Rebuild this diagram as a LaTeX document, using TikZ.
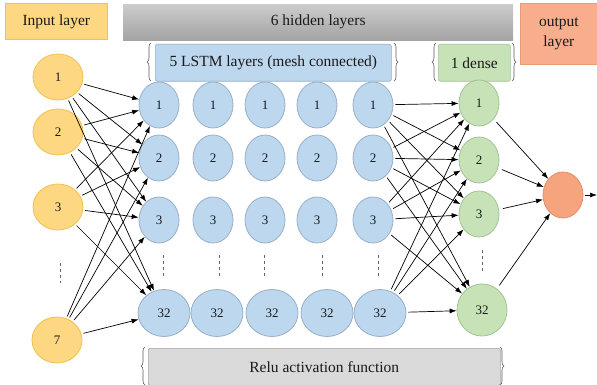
\documentclass[tikz,border=0pt]{standalone}
\usepackage{fontspec}
\newfontfamily\labfont{Liberation Serif}
\usetikzlibrary{shapes.geometric,arrows.meta,decorations.pathreplacing}
\definecolor{inF}{HTML}{FED782}
\definecolor{inD}{HTML}{F2C14E}
\definecolor{blF}{HTML}{BDD7EE}
\definecolor{blD}{HTML}{97AFC9}
\definecolor{grF}{HTML}{C8E2B8}
\definecolor{grD}{HTML}{A3C293}
\definecolor{ouF}{HTML}{F5A47E}
\definecolor{ouD}{HTML}{E38E68}
\definecolor{obF}{HTML}{F8AE8C}
\definecolor{obD}{HTML}{E99B78}
\definecolor{rlF}{HTML}{DADADA}
\definecolor{rlD}{HTML}{A0A0A0}
\definecolor{txt}{HTML}{1A1A1A}
\begin{document}
\begin{tikzpicture}[x=1pt,y=-1pt,
  lab/.style={font=\labfont\fontsize{15.5}{19}\selectfont, text=txt, inner sep=0pt, anchor=north west, align=center},
  neuron/.style={ellipse, inner sep=0pt, font=\labfont\fontsize{13}{15}\selectfont, text=txt, line width=0.8pt},
  inN/.style={neuron, fill=inF, draw=inD, minimum width=50, minimum height=46},
  lsN/.style={neuron, fill=blF, draw=blD, minimum width=40, minimum height=46},
  lsB/.style={neuron, fill=blF, draw=blD, minimum width=52, minimum height=47},
  deN/.style={neuron, fill=grF, draw=grD, minimum width=40, minimum height=46},
  deB/.style={neuron, fill=grF, draw=grD, minimum width=50, minimum height=52},
  ouN/.style={neuron, fill=ouF, draw=ouD, minimum width=40, minimum height=46},
  arr/.style={-{Latex[length=7pt,width=5pt]}, line width=0.7pt, black, shorten <=2pt},
  dots/.style={dashed, dash pattern=on 3pt off 3pt, line width=0.8pt, gray!80!black},
  brc/.style={decorate, decoration={brace, amplitude=4pt}, line width=0.6pt, gray!70!black}
]
\useasboundingbox (0,0) rectangle (597,385);

% header boxes
\node[lab, fill=inF, draw=inD, line width=0.6pt, minimum width=102, minimum height=36] (inbox) at (5,3) {Input layer};
\node[lab, top color=gray!40, bottom color=gray!72, draw=none, minimum width=390, minimum height=36] (hidbox) at (123,4) {6 hidden layers};
\node[lab, fill=obF, draw=obD, line width=0.6pt, minimum width=77, minimum height=61] (outbox) at (520,3) {output\\[1pt]layer};
\node[lab, fill=blF, draw=blD, line width=0.6pt, rounded corners=2pt, minimum width=236, minimum height=37] (lstmbox) at (155,44) {5 LSTM layers (mesh connected)};
\node[lab, fill=grF, draw=grD, line width=0.6pt, rounded corners=2pt, minimum width=72, minimum height=37] (densebox) at (438,44) {1 dense};
\node[lab, fill=rlF, draw=rlD, line width=0.6pt, rounded corners=2pt, minimum width=352, minimum height=37] (relubox) at (148,348) {Relu activation function};

% braces
\draw[brc] (151,81) -- (151,43);
\draw[brc] (394,43) -- (394,81);
\draw[brc] (436,81) -- (436,43);
\draw[brc] (512,43) -- (512,81);
\draw[brc] (145,385) -- (145,347);
\draw[brc] (500,347) -- (500,385);

% input neurons
\node[inN] (i1) at (58,77) {1};
\node[inN] (i2) at (58,132) {2};
\node[inN] (i3) at (58,207) {3};
\node[inN] (i7) at (57,340) {7};

% LSTM neurons
\foreach \c/\x/\xb in {1/159/164, 2/213/217, 3/265/272, 4/317/327, 5/373/380}{
  \node[lsN] (l\c r1) at (\x,105) {1};
  \node[lsN] (l\c r2) at (\x,158) {2};
  \node[lsN] (l\c r3) at (\x,220) {3};
  \node[lsB] (l\c r32) at (\xb,313) {32};
}

% dense neurons
\node[deN] (d1) at (479,103) {1};
\node[deN] (d2) at (479,160) {2};
\node[deN] (d3) at (479,214) {3};
\node[deB] (d32) at (482,310) {32};

% output neuron
\node[ouN] (o) at (563,195) {};
\coordinate (oend) at (597,195);

% vertical dots
\draw[dots] (60,263) -- (60,283);
\foreach \x in {163,219,264,322,378}{\draw[dots] (\x,255) -- (\x,278);}
\draw[dots] (482,250) -- (482,272);

% input -> LSTM column 1
\foreach \a in {i1,i2,i3,i7}{
  \foreach \b in {r1,r2,r3,r32}{
    \draw[arr] (\a) -- (l1\b);
  }
}
% LSTM column 5 -> dense
\foreach \a in {r1,r2,r3,r32}{
  \foreach \b in {d1,d2,d3,d32}{
    \draw[arr] (l5\a) -- (\b);
  }
}
% dense -> output
\foreach \a in {d1,d2,d3,d32}{
  \draw[arr, shorten <=4pt] (\a) -- (o);
}
\draw[arr] (o) -- (oend);
\end{tikzpicture}
\end{document}
